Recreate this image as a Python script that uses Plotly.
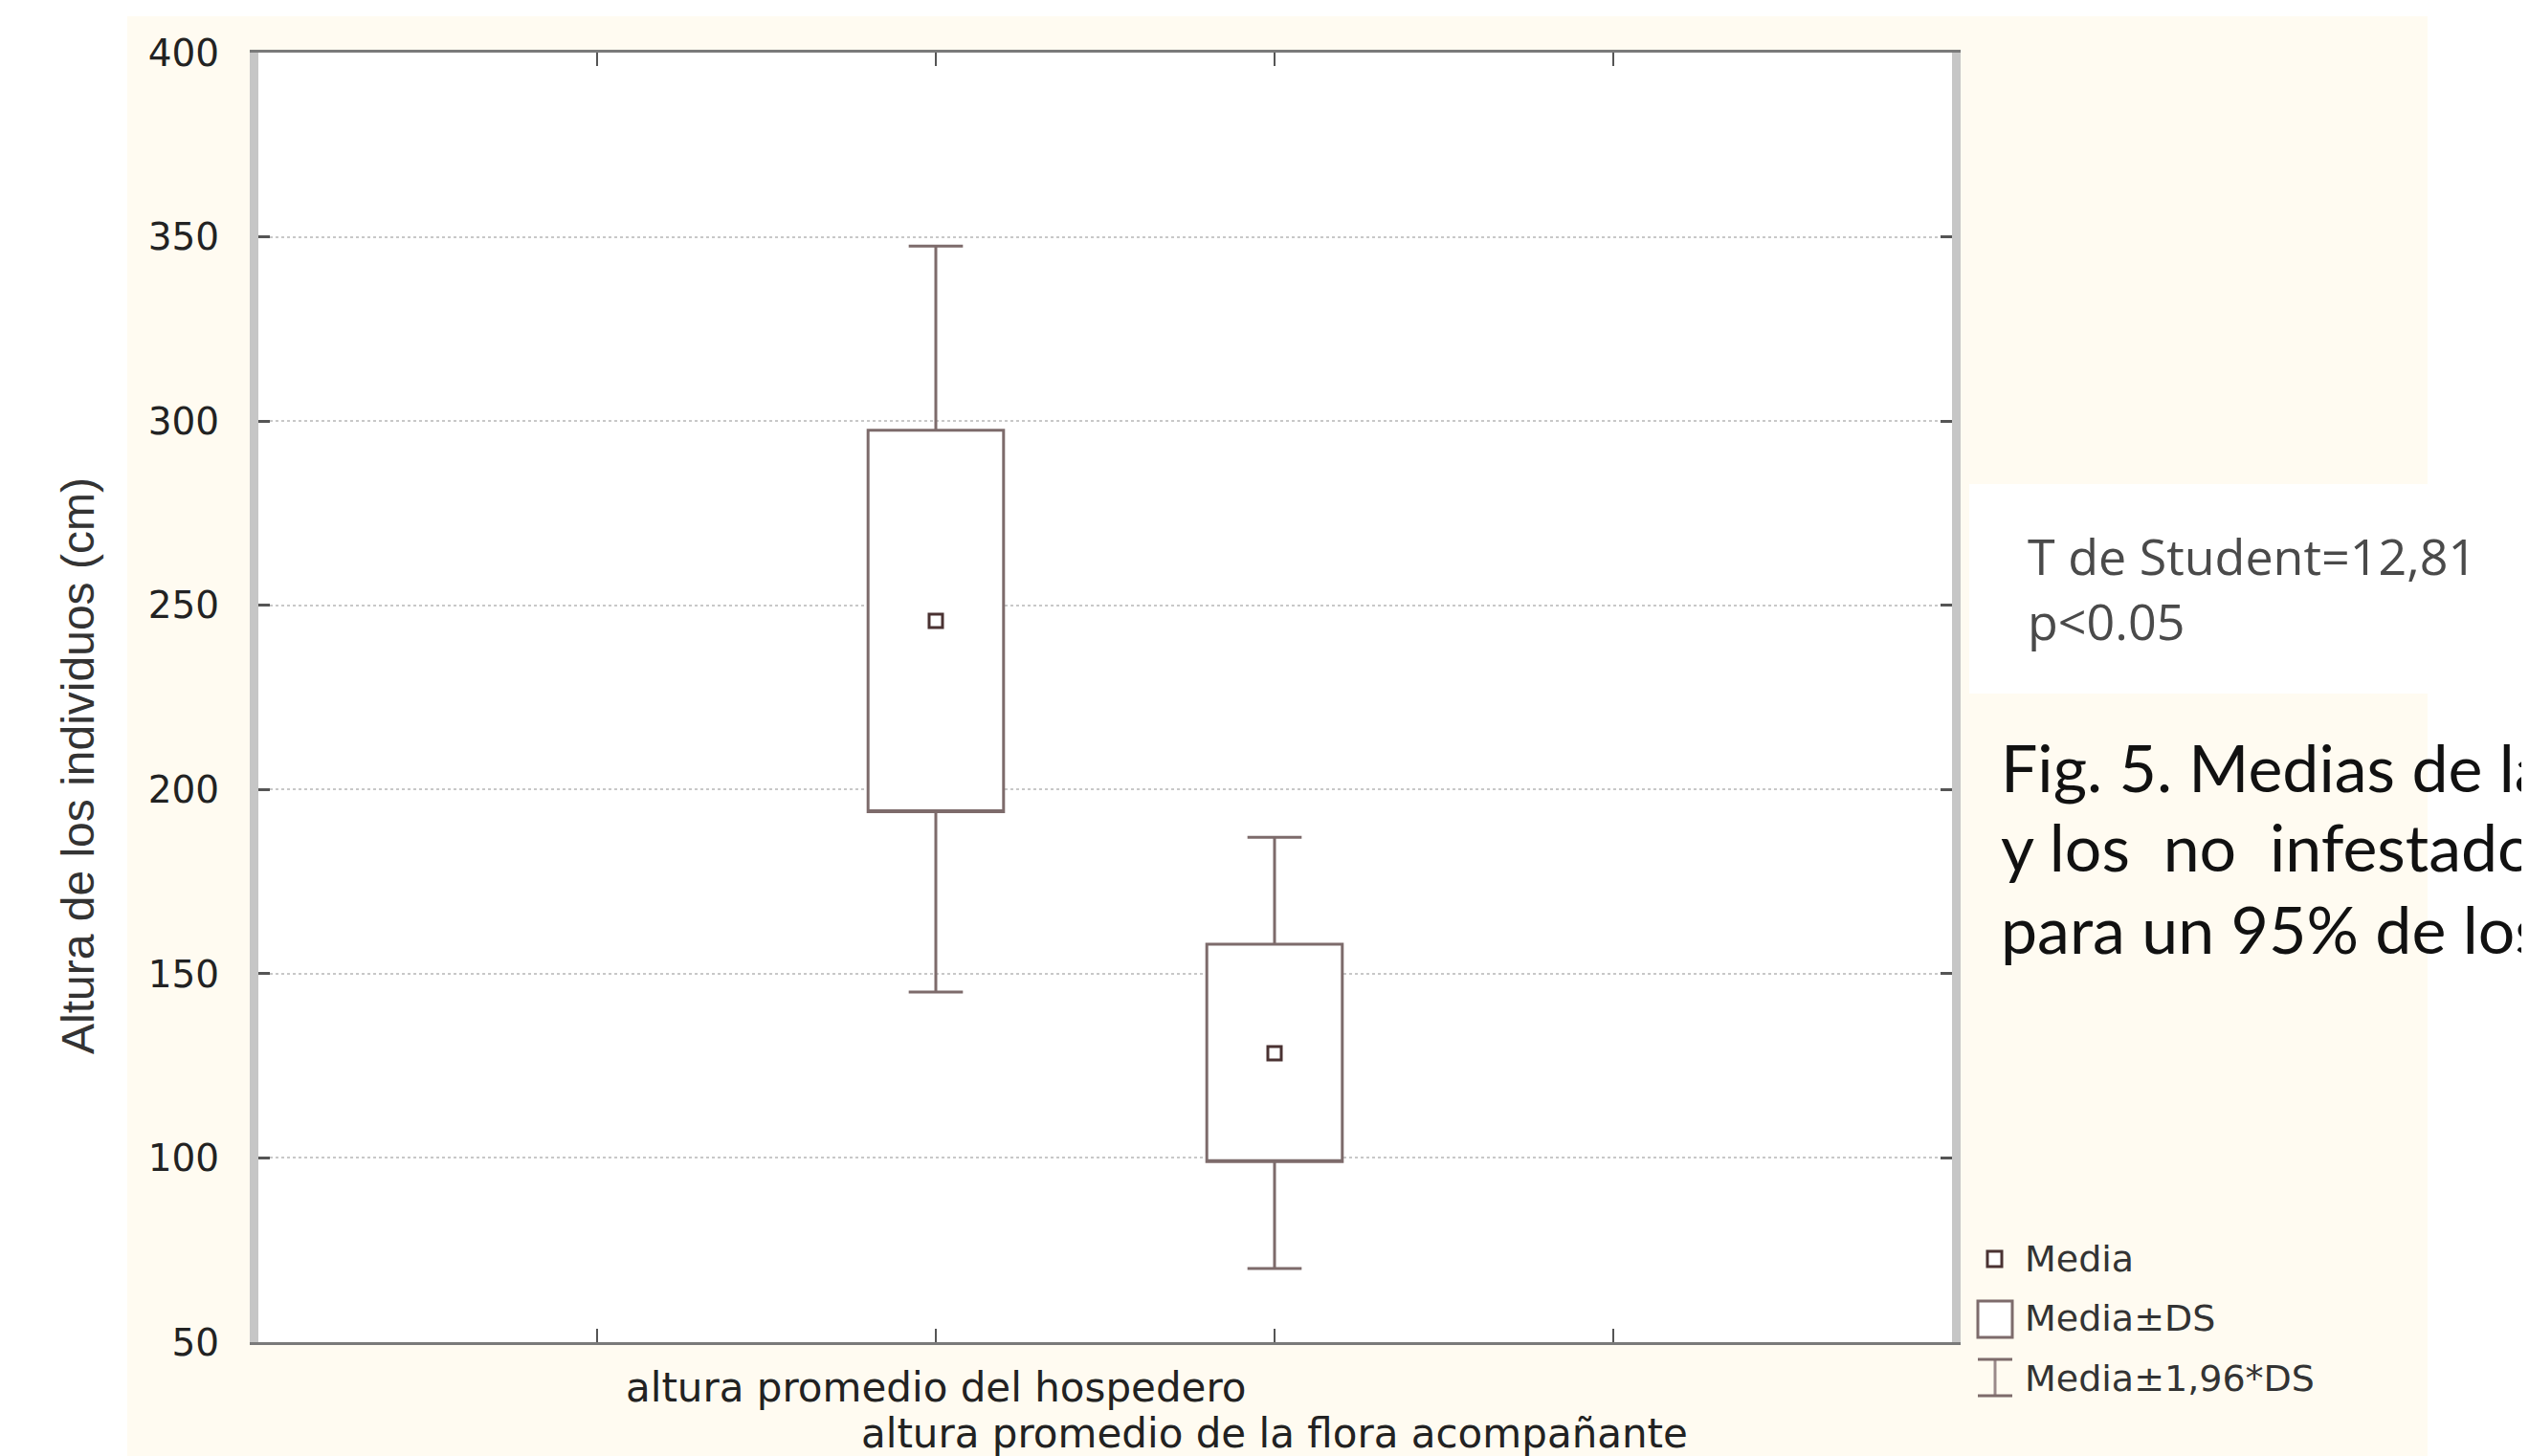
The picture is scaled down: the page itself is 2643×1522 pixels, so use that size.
import plotly.graph_objects as go

# ---------------- data ----------------
categories = ["altura promedio del hospedero", "altura promedio de la flora acompañante"]
media = [245.8, 128.4]
media_menos_ds = [194.0, 99.0]
media_mas_ds = [297.5, 158.0]
media_menos_196ds = [145.0, 70.0]
media_mas_196ds = [347.5, 187.0]

y_ticks = [50, 100, 150, 200, 250, 300, 350, 400]
x_ticks = [1, 2, 3, 4]
y_title = "Altura de los individuos (cm)"
stat_lines = ["T de Student=12,81", "p<0.05"]
caption_lines = ["Fig. 5. Medias de la", "y los  no  infestados", "para un 95% de los"]
legend_labels = ["Media", "Media±DS", "Media±1,96*DS"]

# ---------------- layout geometry (reference pixel coords) ----------------
OFF = 8                      # page body margin of the browser
W, H = 2643 - OFF, 1522 - OFF
L, R, T, B = 270, 2040, 55, 1403  # plot area in reference pixels


def px(x):
    return (x - L) / (R - L)


def py(y):
    return (B - y) / (B - T)


cat_pos = list(range(2, 2 + len(categories)))

BOX_COL = "#7d6b6b"
MEAN_COL = "#4a3232"
CREAM = "#fffbf1"

fig = go.Figure()

fig.add_trace(go.Box(
    x=cat_pos,
    q1=media_menos_ds,
    median=media_menos_ds,
    q3=media_mas_ds,
    lowerfence=media_menos_196ds,
    upperfence=media_mas_196ds,
    width=0.4,
    whiskerwidth=0.4,
    fillcolor="white",
    line=dict(color=BOX_COL, width=3),
    boxpoints=False,
    showlegend=False,
    hoverinfo="skip",
))

fig.add_trace(go.Scatter(
    x=cat_pos,
    y=media,
    mode="markers",
    marker=dict(symbol="square-open", size=14, color=MEAN_COL,
                line=dict(width=3, color=MEAN_COL)),
    showlegend=False,
    hoverinfo="skip",
))

shapes = []
# white areas around the cream page
for (x0, y0, x1, y1) in [(0, 0, 2643, 17), (2537, 0, 2643, 1522), (0, 0, 133, 1522),
                         (2058, 506, 2643, 725)]:
    shapes.append(dict(type="rect", xref="paper", yref="paper",
                       x0=px(x0), x1=px(x1), y0=py(y1), y1=py(y0),
                       fillcolor="white", line=dict(width=0), layer="below"))

# legend icons
shapes.append(dict(type="rect", xref="paper", yref="paper",
                   x0=px(2077), x1=px(2092), y0=py(1324), y1=py(1308),
                   fillcolor="white", line=dict(color=MEAN_COL, width=3)))
shapes.append(dict(type="rect", xref="paper", yref="paper",
                   x0=px(2067), x1=px(2103), y0=py(1398), y1=py(1360),
                   fillcolor="white", line=dict(color=BOX_COL, width=3)))
shapes.append(dict(type="line", xref="paper", yref="paper",
                   x0=px(2085), x1=px(2085), y0=py(1459), y1=py(1421),
                   line=dict(color="#9a8a8a", width=3)))
for yy in (1421, 1459):
    shapes.append(dict(type="line", xref="paper", yref="paper",
                       x0=px(2067), x1=px(2103), y0=py(yy), y1=py(yy),
                       line=dict(color=BOX_COL, width=3)))

annotations = []
# category labels under the x axis (staggered as in the original)
for i, (cat, yy) in enumerate(zip(categories, [1451, 1498])):
    annotations.append(dict(text=cat, xref="x", yref="paper",
                            x=cat_pos[i], y=py(yy), showarrow=False,
                            xanchor="center", yanchor="middle",
                            font=dict(family="DejaVu Sans", size=42, color="#222222")))
annotations.append(dict(text=y_title, xref="paper", yref="paper",
                        x=px(81), y=py(801), textangle=-90, showarrow=False,
                        xanchor="center", yanchor="middle",
                        font=dict(family="Liberation Sans", size=48, color="#333333")))
annotations.append(dict(text="<br>".join(stat_lines), xref="paper", yref="paper",
                        x=px(2117), y=py(614), showarrow=False, align="left",
                        xanchor="left", yanchor="middle",
                        font=dict(family="Open Sans", size=52, color="#4a4a4a")))
for line, yy in zip(caption_lines, [801, 884, 970]):
    annotations.append(dict(text=line, xref="paper", yref="paper",
                            x=px(2089), y=py(yy), showarrow=False, align="left",
                            xanchor="left", yanchor="middle",
                            font=dict(family="Lato", size=68, color="#111111")))
for lab, yy in zip(legend_labels, [1316, 1378, 1441]):
    annotations.append(dict(text=lab, xref="paper", yref="paper",
                            x=px(2114), y=py(yy), showarrow=False,
                            xanchor="left", yanchor="middle",
                            font=dict(family="DejaVu Sans", size=38, color="#333333")))

fig.update_layout(
    width=W, height=H,
    margin=dict(l=L - OFF, r=W - (R - OFF), t=T - OFF, b=H - (B - OFF), autoexpand=False),
    paper_bgcolor=CREAM,
    plot_bgcolor="white",
    shapes=shapes,
    annotations=annotations,
    showlegend=False,
    xaxis=dict(
        range=[0, 5], tickvals=x_ticks, showticklabels=False,
        showgrid=False, zeroline=False,
        showline=True, linecolor="#7a7a7a", linewidth=3, mirror="ticks",
        ticks="inside", ticklen=14, tickwidth=2, tickcolor="#555555",
    ),
    yaxis=dict(
        range=[50, 400], tickvals=y_ticks,
        showgrid=True, gridcolor="#c8c8c8", griddash="dot", gridwidth=2,
        zeroline=False,
        showline=True, linecolor="#c6c6c6", linewidth=9, mirror="ticks",
        ticks="inside", ticklen=12, tickwidth=2.5, tickcolor="#555555",
        tickfont=dict(family="DejaVu Sans", size=39, color="#222222"),
        ticklabelstandoff=24,
    ),
)

fig.write_html("out.html")
